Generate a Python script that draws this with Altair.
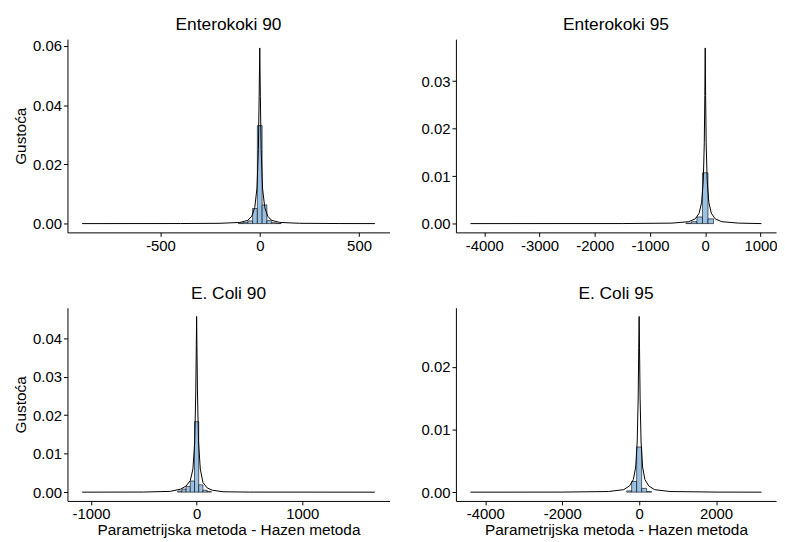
import altair as alt
import pandas as pd

FONT = "Liberation Sans"
FILL = "#9AC0E4"

# ---------------- Enterokoki 90 ----------------
e90_bin_centers = [-96, -72, -48, -24, 0, 24, 48, 72, 96]
e90_bin_heights = [0.0002, 0.0004, 0.0009, 0.0051, 0.0331, 0.0063, 0.0010, 0.0003, 0.0001]
e90_bin_width = 24
e90_dens_x = [-895, -400, -200, -100, -60, -40, -25, -14, -7, -3, 0, 3, 7, 14, 25, 40, 60, 100, 200, 400, 580]
e90_dens_y = [0, 0.00002, 0.0001, 0.0004, 0.0011, 0.0025, 0.0055, 0.012, 0.025, 0.043, 0.0593,
              0.043, 0.025, 0.012, 0.0055, 0.0025, 0.0011, 0.0004, 0.0001, 0.00002, 0]
e90_xticks = [-500, 0, 500]
e90_yticks = [0.0, 0.02, 0.04, 0.06]

# ---------------- Enterokoki 95 ----------------
e95_bin_centers = [-300, -200, -100, 0, 100]
e95_bin_heights = [0.0001, 0.0004, 0.0014, 0.0107, 0.0010]
e95_bin_width = 100
e95_dens_x = [-4250, -1500, -600, -300, -180, -110, -65, -35, -17, -7, 0, 7, 17, 35, 65, 110, 180, 300, 600, 1018]
e95_dens_y = [0, 0.00001, 0.0001, 0.0004, 0.0010, 0.0022, 0.0045, 0.009, 0.017, 0.027, 0.037,
              0.027, 0.017, 0.009, 0.0045, 0.0022, 0.0010, 0.0004, 0.0001, 0]
e95_xticks = [-4000, -3000, -2000, -1000, 0, 1000]
e95_yticks = [0.0, 0.01, 0.02, 0.03]

# ---------------- E. Coli 90 ----------------
c90_bin_centers = [-160, -120, -80, -40, 0, 40, 80, 120]
c90_bin_heights = [0.0003, 0.0008, 0.0015, 0.0029, 0.0183, 0.0019, 0.0005, 0.0002]
c90_bin_width = 40
c90_dens_x = [-1085, -500, -250, -150, -100, -60, -35, -18, -8, -3, 0, 3, 8, 18, 35, 60, 100, 150, 250, 500, 1689]
c90_dens_y = [0, 0.00003, 0.0002, 0.0008, 0.0016, 0.003, 0.006, 0.013, 0.026, 0.038, 0.0456,
              0.038, 0.026, 0.013, 0.006, 0.0025, 0.0011, 0.0005, 0.0001, 0.00002, 0]
c90_xticks = [-1000, 0, 1000]
c90_yticks = [0.0, 0.01, 0.02, 0.03, 0.04]

# ---------------- E. Coli 95 ----------------
c95_bin_centers = [-260, -130, 0, 130, 260]
c95_bin_heights = [0.0002, 0.0017, 0.0072, 0.0006, 0.0001]
c95_bin_width = 130
c95_dens_x = [-4385, -2000, -800, -400, -250, -150, -90, -50, -25, -10, 0, 10, 25, 50, 90, 150, 250, 400, 800, 2000, 3180]
c95_dens_y = [0, 0.00001, 0.0001, 0.0004, 0.001, 0.002, 0.004, 0.008, 0.015, 0.023, 0.028,
              0.023, 0.015, 0.008, 0.004, 0.002, 0.001, 0.0004, 0.0001, 0.00001, 0]
c95_xticks = [-4000, -2000, 0, 2000]
c95_yticks = [0.0, 0.01, 0.02]

XTITLE = "Parametrijska metoda - Hazen metoda"
YTITLE = "Gustoća"


def expand(lo, hi, frac=0.05):
    d = (hi - lo) * frac
    return [lo - d, hi + d]


def panel(title, centers, heights, bw, dx, dy, xticks, yticks, show_x, show_y, w, h):
    bars = pd.DataFrame({
        "x0": [c - bw / 2 for c in centers],
        "x1": [c + bw / 2 for c in centers],
        "h": heights,
        "base": [0.0] * len(centers),
    })
    dens = pd.DataFrame({"x": dx, "y": dy})
    xdom = expand(min(dx), max(dx))
    ydom = expand(0, max(dy))
    xs = alt.Scale(domain=xdom, nice=False, zero=False)
    ys = alt.Scale(domain=ydom, nice=False, zero=False)
    xaxis = alt.Axis(values=xticks, labelExpr="'' + datum.value",
                     title=XTITLE if show_x else None)
    yaxis = alt.Axis(values=yticks, format=".2f",
                     title=YTITLE if show_y else None)
    b = alt.Chart(bars).mark_rect(fill=FILL, stroke="black", strokeWidth=0.6).encode(
        x=alt.X("x0:Q", scale=xs, axis=xaxis),
        x2="x1:Q",
        y=alt.Y("h:Q", scale=ys, axis=yaxis),
        y2="base:Q",
    )
    l = alt.Chart(dens).mark_line(color="black", strokeWidth=1).encode(
        x=alt.X("x:Q", scale=xs, axis=xaxis),
        y=alt.Y("y:Q", scale=ys, axis=yaxis),
    )
    return alt.layer(b, l).properties(width=w, height=h, title=title)


W1, W2, H = 325, 323, 195
p1 = panel("Enterokoki 90", e90_bin_centers, e90_bin_heights, e90_bin_width,
           e90_dens_x, e90_dens_y, e90_xticks, e90_yticks, False, True, W1, H)
p2 = panel("Enterokoki 95", e95_bin_centers, e95_bin_heights, e95_bin_width,
           e95_dens_x, e95_dens_y, e95_xticks, e95_yticks, False, False, W2, H)
p3 = panel("E. Coli 90", c90_bin_centers, c90_bin_heights, c90_bin_width,
           c90_dens_x, c90_dens_y, c90_xticks, c90_yticks, True, True, W1, H)
p4 = panel("E. Coli 95", c95_bin_centers, c95_bin_heights, c95_bin_width,
           c95_dens_x, c95_dens_y, c95_xticks, c95_yticks, True, False, W2, H)

chart = alt.vconcat(
    alt.hconcat(p1, p2, spacing=31),
    alt.hconcat(p3, p4, spacing=31),
    spacing=32,
).properties(
    padding={"left": 5, "top": 5, "right": 0, "bottom": 0}
).configure_view(stroke=None).configure_axis(
    grid=False,
    domainColor="black", domainWidth=1,
    tickColor="black", tickWidth=1, tickSize=4,
    labelColor="black", labelFont=FONT, labelFontSize=15, labelPadding=2,
    titleColor="black", titleFont=FONT, titleFontSize=15.5, titleFontWeight="normal",
).configure_axisY(titlePadding=4).configure_axisX(titlePadding=1).configure_title(
    font=FONT, fontSize=17.5, fontWeight="normal", color="black", anchor="middle", offset=5.5,
)

chart.save("out.html", embed_options={"renderer": "svg", "actions": False})
